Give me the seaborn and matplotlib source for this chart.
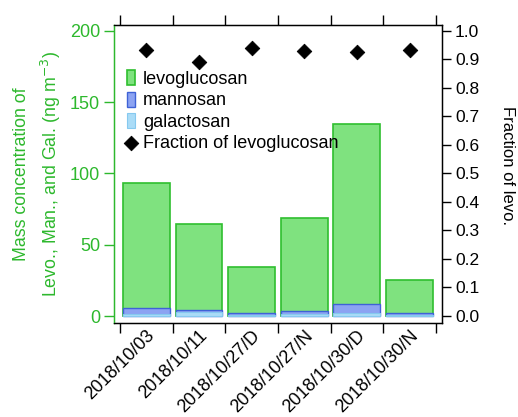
import matplotlib
matplotlib.use("Agg")
import matplotlib.pyplot as plt
import seaborn as sns
import numpy as np
import pandas as pd

sns.set_style("ticks")
plt.rcParams['font.family'] = ['Liberation Sans', 'DejaVu Sans']
plt.rcParams['text.color'] = 'black'
plt.rcParams['axes.labelcolor'] = 'black'
plt.rcParams['xtick.color'] = 'black'
plt.rcParams['ytick.color'] = 'black'

dates = ["2018/10/03", "2018/10/11", "2018/10/27/D", "2018/10/27/N", "2018/10/30/D", "2018/10/30/N"]
levoglucosan = [87.7, 60.4, 32.1, 65.5, 126.3, 23.4]
mannosan = [4.2, 1.6, 1.6, 2.3, 6.1, 1.4]
galactosan = [1.2, 2.6, 0.5, 1.2, 2.3, 0.5]
fraction = [0.931, 0.892, 0.940, 0.929, 0.924, 0.934]

GREEN_FILL = "#7fe27f"
GREEN_EDGE = "#2fbf2f"
BLUE_FILL = "#8ca3f2"
BLUE_EDGE = "#3f62d6"
LBLUE_FILL = "#aadcf7"
LBLUE_EDGE = "#86c9ef"
AXGREEN = "#2db82d"

df = pd.DataFrame({"date": dates, "levo": levoglucosan, "man": mannosan, "gal": galactosan, "frac": fraction})
df["total"] = df["levo"] + df["man"] + df["gal"]
df["mg"] = df["man"] + df["gal"]

fig = plt.figure(figsize=(5.18, 4.17), dpi=100)
ax = fig.add_axes([0.220, 0.2254, 0.633, 0.7146])

sns.barplot(data=df, x="date", y="total", color=GREEN_FILL, saturation=1, width=0.89,
            edgecolor=GREEN_EDGE, linewidth=1.2, ax=ax, label="levoglucosan")
sns.barplot(data=df, x="date", y="mg", color=BLUE_FILL, saturation=1, width=0.89,
            edgecolor=BLUE_EDGE, linewidth=1.0, ax=ax, label="mannosan")
sns.barplot(data=df, x="date", y="gal", color=LBLUE_FILL, saturation=1, width=0.89,
            edgecolor=LBLUE_EDGE, linewidth=0.8, ax=ax, label="galactosan")

ax.set_xlim(-0.614, 5.614)
ax.set_ylim(-4.9, 204)
ax.set_yticks([0, 50, 100, 150, 200])
ax.set_xlabel("")
ax.set_ylabel("Mass concentration of\nLevo., Man., and Gal. (ng m$^{-3}$)", color=AXGREEN, fontsize=12.8,
              labelpad=5, linespacing=1.5)
ax.tick_params(axis='y', colors=AXGREEN, labelcolor=AXGREEN, labelsize=13, length=7, width=1, direction='out', pad=3)

# x ticks: labels at category centres, tick marks at boundaries
ax.set_xticks(range(len(dates)))
ax.set_xticklabels(dates, rotation=45, ha='right', rotation_mode='anchor', fontsize=13)
ax.tick_params(axis='x', which='major', length=0, pad=3, labelcolor='black')
ax.set_xticks(np.arange(-0.5, len(dates), 1.0), minor=True)
ax.tick_params(axis='x', which='minor', length=7, width=1, direction='out', top=True, bottom=True, color='black')

for s in ['top', 'bottom', 'right']:
    ax.spines[s].set_color('black')
ax.spines['left'].set_color(AXGREEN)
for s in ax.spines.values():
    s.set_linewidth(1.0)

ax2 = ax.twinx()
sns.scatterplot(data=df, x="date", y="frac", marker='D', color='black', s=55, ax=ax2,
                label="Fraction of levoglucosan", zorder=5, edgecolor='black')
ax2.set_ylim(-0.025, 1.02)
ax2.set_yticks(np.round(np.arange(0, 1.01, 0.1), 1))
ax2.set_yticklabels([f"{v:.1f}" for v in np.arange(0, 1.01, 0.1)])
ax2.tick_params(axis='y', labelsize=12.5, length=6.5, width=1, direction='out', colors='black', pad=3)
ax2.set_ylabel("Fraction of levo.", rotation=-90, fontsize=12, va='center', ha='center')
ax2.yaxis.set_label_coords(1.201, 0.527)
ax2.set_xlabel("")
ax2.set_xlim(-0.614, 5.614)
ax2.spines['left'].set_color(AXGREEN)
for s in ['top', 'bottom', 'right']:
    ax2.spines[s].set_color('black')

h1, l1 = ax.get_legend_handles_labels()
h2, l2 = ax2.get_legend_handles_labels()
if ax.get_legend():
    ax.get_legend().remove()
if ax2.get_legend():
    ax2.get_legend().remove()
leg = ax2.legend(h1 + h2, l1 + l2, loc='upper left', bbox_to_anchor=(0.0, 0.89), frameon=False,
                 fontsize=13, handlelength=0.45, handleheight=0.9, handletextpad=0.45,
                 labelspacing=0.2, borderaxespad=0.3)

fig.savefig("out.png", dpi=100)
